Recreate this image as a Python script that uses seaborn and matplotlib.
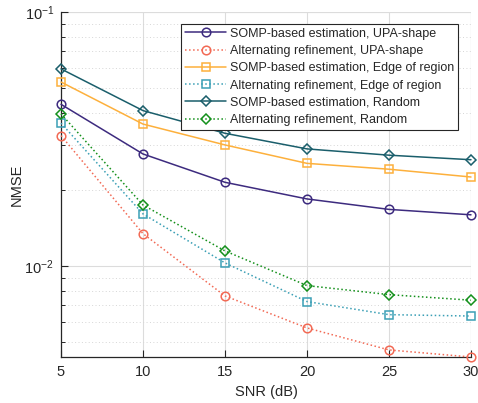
import numpy as np
import pandas as pd
import matplotlib
matplotlib.use("Agg")
import matplotlib.pyplot as plt
import seaborn as sns
from matplotlib.ticker import LogLocator, NullFormatter

snr = [5, 10, 15, 20, 25, 30]
somp_upa = [0.0433, 0.0276, 0.02135, 0.01836, 0.0167, 0.0159]
alt_upa = [0.0326, 0.0134, 0.00762, 0.0057, 0.00467, 0.00438]
somp_edge = [0.0530, 0.0362, 0.02996, 0.02535, 0.02404, 0.0224]
alt_edge = [0.0365, 0.01603, 0.01028, 0.00724, 0.00643, 0.00635]
somp_rand = [0.0597, 0.0409, 0.0333, 0.0289, 0.0273, 0.0262]
alt_rand = [0.0397, 0.01738, 0.01146, 0.00837, 0.00771, 0.00733]
labels = ["SOMP-based estimation, UPA-shape",
          "Alternating refinement, UPA-shape",
          "SOMP-based estimation, Edge of region",
          "Alternating refinement, Edge of region",
          "SOMP-based estimation, Random",
          "Alternating refinement, Random"]
series = [somp_upa, alt_upa, somp_edge, alt_edge, somp_rand, alt_rand]

colors = ["#3d2b7f", "#f26a55", "#fdb03c", "#3a9fb5", "#1a5e6b", "#14901b"]
styles = ["-", ":", "-", ":", "-", ":"]
markers = ["o", "o", "s", "s", "D", "D"]
msizes = [6.2, 6.2, 5.8, 5.8, 5.6, 5.6]

sns.set_theme(style="white")
plt.rcParams['font.family'] = ['Liberation Sans', 'DejaVu Sans']
plt.rcParams['mathtext.fontset'] = 'custom'
plt.rcParams['mathtext.rm'] = 'Liberation Sans'
plt.rcParams['mathtext.it'] = 'Liberation Sans'

fig = plt.figure(figsize=(4.78, 4.03), dpi=100)
ax = fig.add_axes([61/478, 1-357/403, 410/478, 345/403])

for lab, vals, c, ls, m, ms in zip(labels, series, colors, styles, markers, msizes):
    df = pd.DataFrame({"SNR": snr, "NMSE": vals})
    sns.lineplot(data=df, x="SNR", y="NMSE", ax=ax, color=c, linestyle=ls,
                 linewidth=1.1, marker=m, markersize=ms, markerfacecolor="none",
                 markeredgecolor=c, markeredgewidth=1.1, label=lab, zorder=3,
                 clip_on=False)

ax.set_yscale("log")
ax.set_xlim(5, 30)
ax.set_ylim(0.00438, 0.1)
ax.set_xticks(snr)
ax.yaxis.set_major_locator(LogLocator(base=10))
ax.yaxis.set_minor_locator(LogLocator(base=10, subs=np.arange(2, 10)))
ax.yaxis.set_minor_formatter(NullFormatter())

ax.grid(True, which="major", color="#dcdcdc", linewidth=0.8, linestyle="-", zorder=0)
ax.grid(True, which="minor", axis="y", color="#d6d6d6", linewidth=0.7, linestyle=(0, (1, 2.5)), zorder=0)
ax.set_axisbelow(True)

for s in ["top", "right"]:
    ax.spines[s].set_visible(False)
for s in ["left", "bottom"]:
    ax.spines[s].set_color("#262626")
    ax.spines[s].set_linewidth(0.9)
ax.axhline(0.1, color="#dcdcdc", linewidth=0.8, zorder=0)
ax.axvline(30, color="#dcdcdc", linewidth=0.8, zorder=0)

ax.tick_params(axis="both", which="both", direction="in", colors="#262626",
               labelsize=10.5, labelcolor="#262626", left=True, bottom=True)
ax.tick_params(axis="both", which="major", length=5, width=0.8)
ax.tick_params(axis="y", which="minor", length=3, width=0.7)
ax.tick_params(axis="x", which="minor", bottom=False)
ax.tick_params(axis="x", which="major", pad=6)
ax.tick_params(axis="y", which="major", pad=5)

ax.set_xlabel("SNR (dB)", fontsize=10.5, color="#262626", labelpad=4)
ax.set_ylabel("NMSE", fontsize=10.5, color="#262626", labelpad=1)
ax.yaxis.set_label_coords(-(61-24)/410, 0.5)

leg = ax.legend(loc="upper right", bbox_to_anchor=((458-61)/410, (357-24)/345),
                borderaxespad=0, fontsize=9, frameon=True, fancybox=False,
                framealpha=1, edgecolor="#262626", handlelength=3.3,
                handletextpad=0.3, labelspacing=0.42, borderpad=0.3)
leg.get_frame().set_linewidth(0.8)
leg.set_zorder(5)

fig.savefig("out.png", dpi=100)
